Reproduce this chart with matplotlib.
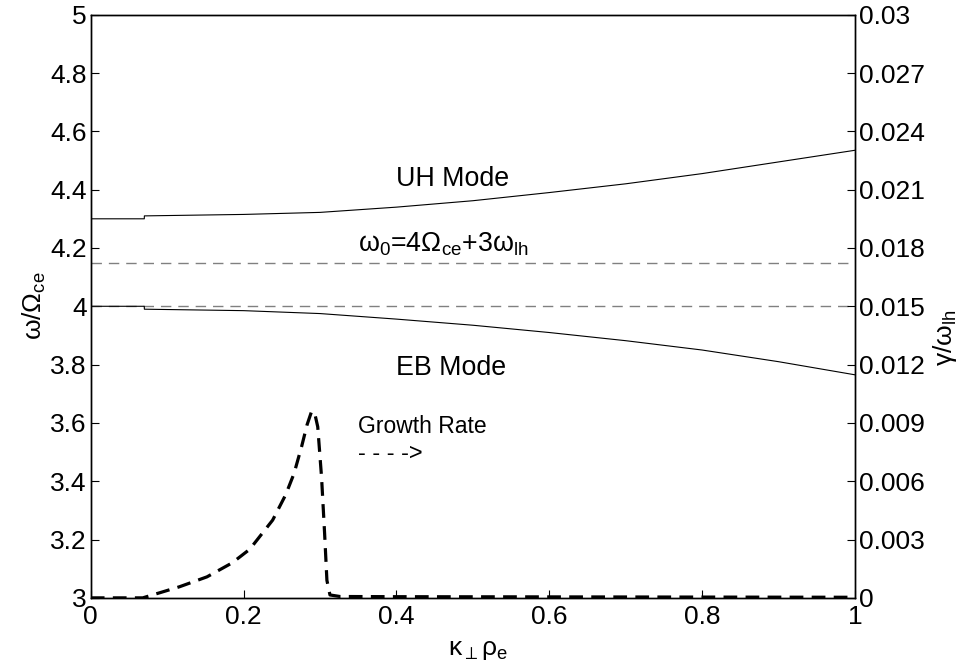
import numpy as np
import matplotlib
matplotlib.use("Agg")
import matplotlib.pyplot as plt

plt.rcParams['font.family'] = ['Liberation Sans', 'DejaVu Sans']
plt.rcParams['mathtext.fontset'] = 'custom'
plt.rcParams['mathtext.rm'] = 'Liberation Sans'
plt.rcParams['mathtext.it'] = 'Liberation Sans'
plt.rcParams['mathtext.default'] = 'regular'

# --- data ---
k_mode = [0.0, 0.07, 0.0701, 0.2, 0.3, 0.4, 0.5, 0.6, 0.7, 0.8, 0.9, 1.0]
uh_mode = [4.30, 4.30, 4.31, 4.315, 4.322, 4.34, 4.362, 4.39, 4.42, 4.455, 4.495, 4.535]
eb_mode = [4.00, 4.00, 3.99, 3.985, 3.975, 3.956, 3.935, 3.91, 3.882, 3.85, 3.81, 3.765]

k_growth = [0.0, 0.068, 0.09, 0.116, 0.152, 0.185, 0.208, 0.238, 0.255, 0.266, 0.276,
            0.283, 0.289, 0.293, 0.297, 0.302, 0.306, 0.309, 0.313, 0.326,
            0.4, 0.6, 0.8, 1.0]
growth = [0.0, 0.0, 0.00026, 0.00057, 0.00108, 0.0018, 0.0025, 0.0040, 0.0053, 0.0064,
          0.0078, 0.0089, 0.0096, 0.0095, 0.0088, 0.0062, 0.0033, 0.0009, 0.00015,
          0.00007, 0.00006, 0.00005, 0.00004, 0.00003]

omega0 = 4.15
ref_line = 4.0

x_ticks = [0, 0.2, 0.4, 0.6, 0.8, 1]
x_labels = ['0', '0.2', '0.4', '0.6', '0.8', '1']
y_ticks = [3, 3.2, 3.4, 3.6, 3.8, 4, 4.2, 4.4, 4.6, 4.8, 5]
y_labels = ['3', '3.2', '3.4', '3.6', '3.8', '4', '4.2', '4.4', '4.6', '4.8', '5']
g_ticks = [0, 0.003, 0.006, 0.009, 0.012, 0.015, 0.018, 0.021, 0.024, 0.027, 0.03]
g_labels = ['0', '0.003', '0.006', '0.009', '0.012', '0.015', '0.018', '0.021',
            '0.024', '0.027', '0.03']

fig = plt.figure(figsize=(9.66, 6.68), dpi=100)
ax = fig.add_axes([0.094, 0.105, 0.791, 0.873])
ax2 = ax.twinx()

tick_fs = 19

ax.axhline(omega0, color='#808080', lw=1.0, dashes=(7.5, 5))
ax.axhline(ref_line, color='#808080', lw=1.0, dashes=(7.5, 5))
ax.plot(k_mode, uh_mode, color='black', lw=0.8)
ax.plot(k_mode, eb_mode, color='black', lw=0.8)

ax2.plot(k_growth, growth, color='black', lw=2.3, dashes=(4.3, 2.6))

ax.set_xlim(0, 1)
ax.set_ylim(3, 5)
ax2.set_ylim(0, 0.03)

ax.set_xticks(x_ticks)
ax.set_xticklabels(x_labels)
ax.set_yticks(y_ticks)
ax.set_yticklabels(y_labels)
ax2.set_yticks(g_ticks)
ax2.set_yticklabels(g_labels)

ax.tick_params(axis='y', direction='in', length=6, width=0.8, labelsize=tick_fs, pad=3)
ax.tick_params(axis='x', direction='in', length=6, width=0.8, labelsize=tick_fs, pad=5)
ax2.tick_params(direction='in', length=6, width=0.8, labelsize=tick_fs, pad=3)
for a in (ax, ax2):
    for s in a.spines.values():
        s.set_linewidth(1.0)

# axis labels placed by hand (pixel centres)
fig.text(478 / 966, 1 - 650 / 668, r'κ$_{\perp}$ρ$_e$', fontsize=19,
         ha='center', va='center')
fig.text(34 / 966, 1 - 306 / 668, r'ω/Ω$_{ce}$', fontsize=19,
         ha='center', va='center', rotation=90)
fig.text(945 / 966, 1 - 338 / 668, r'γ/ω$_{lh}$', fontsize=19,
         ha='center', va='center', rotation=90)

ax.text(0.40, 4.413, 'UH Mode', fontsize=19.3, va='baseline')
ax.text(0.40, 3.765, 'EB Mode', fontsize=19.3, va='baseline')
ax.text(0.35, 4.187, r'ω$_0$=4Ω$_{ce}$+3ω$_{lh}$', fontsize=19.3, va='baseline')
ax.text(0.3495, 3.566, 'Growth Rate', fontsize=16.5, va='baseline')
ax.text(0.3495, 3.473, '- - - ->', fontsize=17, va='baseline')

fig.savefig('out.png', dpi=100)
